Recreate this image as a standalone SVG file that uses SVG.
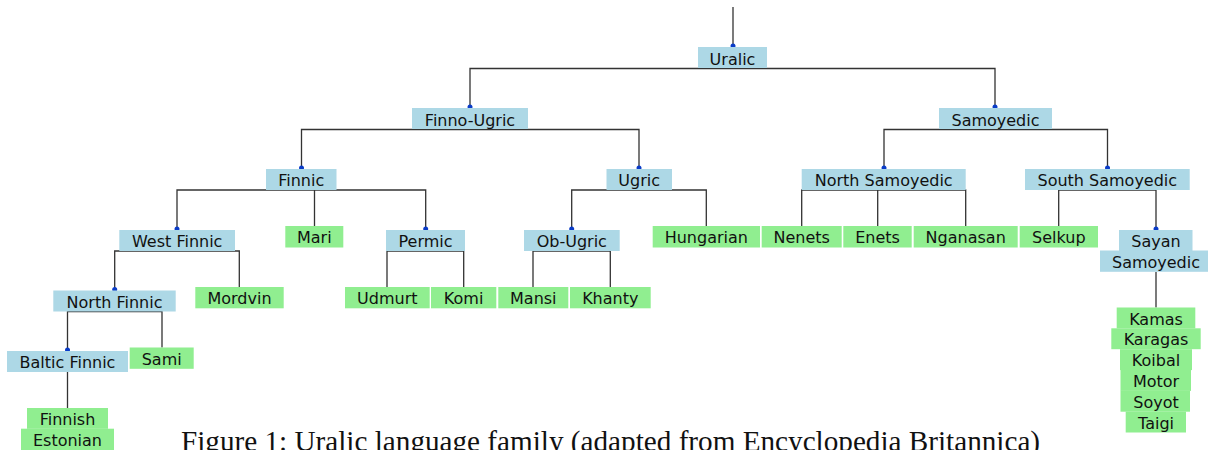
<svg xmlns="http://www.w3.org/2000/svg" width="1208" height="450" viewBox="0 0 1208 450">
<style>
.b{fill:#ADD8E6}
.g{fill:#90EE90}
.t{font-family:"DejaVu Sans",Verdana,sans-serif;font-size:16px;fill:#111;text-anchor:middle}
.c{fill:none;stroke:#333;stroke-width:1.3}
.d{fill:#0a3cc8}
.cap{font-family:"Liberation Serif","Times New Roman",serif;font-size:29.2px;fill:#111}
</style>
<rect width="1208" height="450" fill="#fff"/>
<g id="connectors">
<path class="c" d="M733 7V47"/>
<path class="c" d="M470 108V68.5H995V108"/>
<path class="c" d="M301.5 169V129.5H639V169"/>
<path class="c" d="M884 169V129.5H1107.5V169"/>
<path class="c" d="M177 230V190H425.7V230M314.5 190V226"/>
<path class="c" d="M571.7 230V190H706.3V226"/>
<path class="c" d="M801.7 226V190H965.7V226M877.7 190V226"/>
<path class="c" d="M1058.7 226V190H1156V230"/>
<path class="c" d="M114.7 290.5V251H239.3V287"/>
<path class="c" d="M387 287V251H463.7V287"/>
<path class="c" d="M533 287V251H610.3V287"/>
<path class="c" d="M1156 272V307.5"/>
<path class="c" d="M67.5 351V311.5H162V347.5"/>
<path class="c" d="M67.5 372V408"/>
<circle class="d" cx="733" cy="46" r="2.5"/>
<circle class="d" cx="470" cy="107" r="2.5"/>
<circle class="d" cx="995" cy="107" r="2.5"/>
<circle class="d" cx="301.5" cy="168" r="2.5"/>
<circle class="d" cx="639" cy="168" r="2.5"/>
<circle class="d" cx="884" cy="168" r="2.5"/>
<circle class="d" cx="1107.5" cy="168" r="2.5"/>
<circle class="d" cx="177" cy="229" r="2.5"/>
<circle class="d" cx="425.7" cy="229" r="2.5"/>
<circle class="d" cx="571.7" cy="229" r="2.5"/>
<circle class="d" cx="1156" cy="229" r="2.5"/>
<circle class="d" cx="114.7" cy="289.5" r="2.5"/>
<circle class="d" cx="67.5" cy="350" r="2.5"/>
</g>
<g id="uralic"><rect class="b" x="698" y="47" width="69" height="21"/><text class="t" x="732.5" y="64.5">Uralic</text></g>
<g id="finno-ugric"><rect class="b" x="412" y="108" width="116" height="21"/><text class="t" x="470" y="125.5">Finno-Ugric</text></g>
<g id="samoyedic"><rect class="b" x="939" y="108" width="113" height="21"/><text class="t" x="995.5" y="125.5">Samoyedic</text></g>
<g id="finnic"><rect class="b" x="266" y="169" width="70.5" height="21"/><text class="t" x="301.2" y="186.3">Finnic</text></g>
<g id="ugric"><rect class="b" x="606.5" y="169" width="65.5" height="21"/><text class="t" x="639.2" y="186.3">Ugric</text></g>
<g id="north-samoyedic"><rect class="b" x="801.7" y="169" width="164" height="21"/><text class="t" x="883.7" y="186.3">North Samoyedic</text></g>
<g id="south-samoyedic"><rect class="b" x="1025" y="169" width="164.7" height="21"/><text class="t" x="1107.3" y="186.3">South Samoyedic</text></g>
<g id="west-finnic"><rect class="b" x="119.3" y="230" width="115.7" height="21"/><text class="t" x="177.2" y="247.3">West Finnic</text></g>
<g id="permic"><rect class="b" x="386" y="230" width="79" height="21"/><text class="t" x="425.5" y="247.3">Permic</text></g>
<g id="ob-ugric"><rect class="b" x="524" y="230" width="95.7" height="21"/><text class="t" x="571.8" y="247.3">Ob-Ugric</text></g>
<g id="sayan-samoyedic"><rect class="b" x="1119" y="230" width="73.5" height="21"/><rect class="b" x="1100" y="250.5" width="112" height="21.3"/><text class="t" x="1156" y="247.3">Sayan</text><text class="t" x="1156" y="268">Samoyedic</text></g>
<g id="north-finnic"><rect class="b" x="53.3" y="290.5" width="122.4" height="21"/><text class="t" x="114.5" y="307.5">North Finnic</text></g>
<g id="baltic-finnic"><rect class="b" x="7" y="351" width="121" height="21"/><text class="t" x="67.5" y="368.3">Baltic Finnic</text></g>
<g id="mari"><rect class="g" x="285.3" y="226" width="58" height="21.5"/><text class="t" x="314.3" y="243.3">Mari</text></g>
<g id="hungarian"><rect class="g" x="652.7" y="226" width="107.3" height="21.5"/><text class="t" x="706.3" y="243.3">Hungarian</text></g>
<g id="nenets"><rect class="g" x="761.7" y="226" width="80" height="21.5"/><text class="t" x="801.7" y="243.3">Nenets</text></g>
<g id="enets"><rect class="g" x="843.3" y="226" width="68.4" height="21.5"/><text class="t" x="877.5" y="243.3">Enets</text></g>
<g id="nganasan"><rect class="g" x="913.7" y="226" width="104" height="21.5"/><text class="t" x="965.7" y="243.3">Nganasan</text></g>
<g id="selkup"><rect class="g" x="1019.7" y="226" width="78.3" height="21.5"/><text class="t" x="1058.8" y="243.3">Selkup</text></g>
<g id="mordvin"><rect class="g" x="195.3" y="287" width="88.4" height="21.3"/><text class="t" x="239.5" y="304.3">Mordvin</text></g>
<g id="udmurt"><rect class="g" x="345" y="287" width="84.7" height="21.3"/><text class="t" x="387.3" y="304.3">Udmurt</text></g>
<g id="komi"><rect class="g" x="431" y="287" width="65.3" height="21.3"/><text class="t" x="463.6" y="304.3">Komi</text></g>
<g id="mansi"><rect class="g" x="498.3" y="287" width="70" height="21.3"/><text class="t" x="533.3" y="304.3">Mansi</text></g>
<g id="khanty"><rect class="g" x="570" y="287" width="80.7" height="21.3"/><text class="t" x="610.3" y="304.3">Khanty</text></g>
<g id="sami"><rect class="g" x="129.7" y="347.5" width="64" height="21.3"/><text class="t" x="161.7" y="364.8">Sami</text></g>
<g id="finnish-estonian"><rect class="g" x="27" y="408" width="81" height="20.8"/><rect class="g" x="21" y="428.7" width="93" height="22"/><text class="t" x="67.5" y="425">Finnish</text><text class="t" x="67.5" y="445.6">Estonian</text></g>
<g id="sayan-languages">
<rect class="g" x="1116.7" y="307.5" width="78.6" height="20.9"/>
<rect class="g" x="1111.3" y="328.3" width="89.4" height="20.9"/>
<rect class="g" x="1120" y="349.2" width="72" height="20.9"/>
<rect class="g" x="1120.5" y="370" width="70.5" height="20.9"/>
<rect class="g" x="1120.5" y="390.8" width="69.5" height="20.9"/>
<rect class="g" x="1125.7" y="411.6" width="60.3" height="20.9"/>
<text class="t" x="1156" y="324.5">Kamas</text>
<text class="t" x="1156" y="345.3">Karagas</text>
<text class="t" x="1156" y="366.1">Koibal</text>
<text class="t" x="1156" y="386.9">Motor</text>
<text class="t" x="1156" y="407.7">Soyot</text>
<text class="t" x="1156" y="428.5">Taigi</text>
</g>
<text class="cap" x="181" y="451">Figure 1: Uralic language family (adapted from Encyclopedia Britannica)</text>
</svg>
